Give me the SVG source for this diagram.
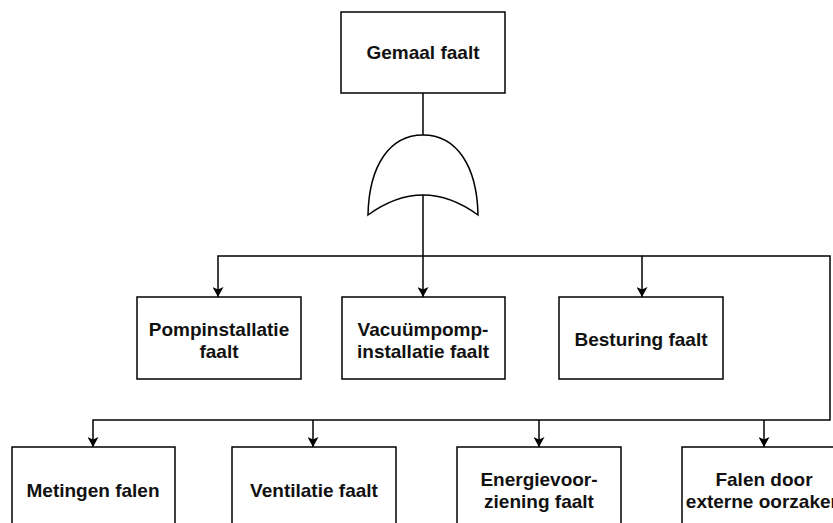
<svg xmlns="http://www.w3.org/2000/svg" width="833" height="523" viewBox="0 0 833 523">
<style>
.box{fill:#fff;stroke:#000;stroke-width:1.5}
.t{font-family:"Liberation Sans",Arial,sans-serif;font-weight:bold;font-size:19px;fill:#111;text-anchor:middle}
.c{fill:none;stroke:#000;stroke-width:1.5}
</style>
<defs>
<marker id="arr" viewBox="0 0 10 11" refX="10" refY="5.5" markerWidth="10" markerHeight="11" markerUnits="userSpaceOnUse" orient="auto">
<path d="M0,0 L10,5.5 L0,11 L2.5,5.5 Z" fill="#000"/>
</marker>
</defs>
<rect width="833" height="523" fill="#fff"/>
<g id="connectors">
<path class="c" d="M423,93 V135"/>
<path class="c" d="M423,195 V256"/>
<path class="c" d="M423,256 H218 V297" marker-end="url(#arr)"/>
<path class="c" d="M423,256 V297" marker-end="url(#arr)"/>
<path class="c" d="M423,256 H642 V297" marker-end="url(#arr)"/>
<path class="c" d="M642,256 H830 V420 H93 V447" marker-end="url(#arr)"/>
<path class="c" d="M313,420 V447" marker-end="url(#arr)"/>
<path class="c" d="M539,420 V447" marker-end="url(#arr)"/>
<path class="c" d="M764,420 V447" marker-end="url(#arr)"/>
</g>
<g id="top">
<rect class="box" x="341" y="12" width="164" height="81"/>
<text class="t" x="423" y="59">Gemaal faalt</text>
</g>
<g id="orgate">
<path class="box" d="M368,215 C369,165 390,135 423,135 C456,135 477,165 478,215 Q423,175 368,215 Z"/>
</g>
<g id="pomp">
<rect class="box" x="137" y="297" width="164" height="82"/>
<text class="t" x="219" y="336">Pompinstallatie</text>
<text class="t" x="219" y="358">faalt</text>
</g>
<g id="vacuum">
<rect class="box" x="342" y="297" width="163" height="82"/>
<text class="t" x="423" y="336">Vacuümpomp-</text>
<text class="t" x="423" y="358">installatie faalt</text>
</g>
<g id="besturing">
<rect class="box" x="559" y="297" width="164" height="82"/>
<text class="t" x="641" y="346">Besturing faalt</text>
</g>
<g id="metingen">
<rect class="box" x="12" y="447" width="163" height="82"/>
<text class="t" x="93" y="497">Metingen falen</text>
</g>
<g id="ventilatie">
<rect class="box" x="232" y="447" width="164" height="82"/>
<text class="t" x="314" y="497">Ventilatie faalt</text>
</g>
<g id="energie">
<rect class="box" x="457" y="447" width="164" height="82"/>
<text class="t" x="539" y="486">Energievoor-</text>
<text class="t" x="539" y="508">ziening faalt</text>
</g>
<g id="extern">
<rect class="box" x="682" y="447" width="164" height="82"/>
<text class="t" x="764" y="486">Falen door</text>
<text class="t" x="764" y="508">externe oorzaken</text>
</g>
</svg>
